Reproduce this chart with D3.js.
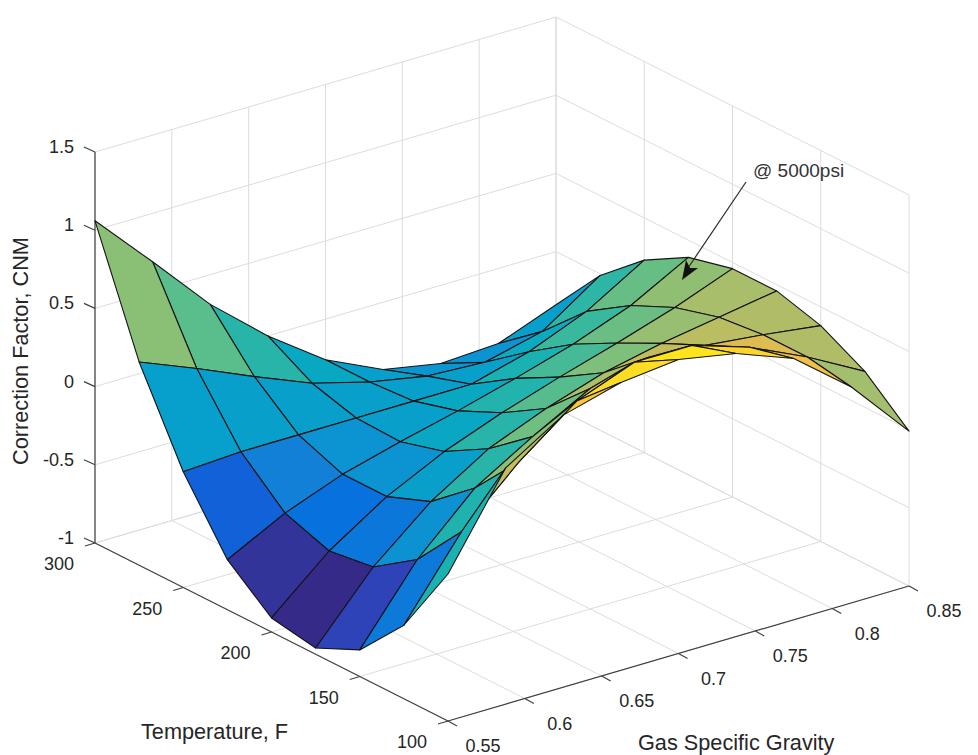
<!DOCTYPE html>
<meta charset="utf-8">
<title>Correction Factor CNM</title>
<style>
  html, body { margin: 0; background: #fff; }
  text { font-family: "Liberation Sans", Arial, sans-serif; fill: #262626; }
  .grid line { stroke: #dcdcdc; stroke-width: 1; }
  .axis line { stroke: #404040; stroke-width: 1.2; }
  .surface polygon { stroke: #141414; stroke-width: 1.1; stroke-linejoin: round; }
</style>
<body>
<svg width="978" height="755"></svg>
<script src="https://d3js.org/d3.v7.min.js"></script>
<script>

// axis ticks
var gsTicks = [0.55, 0.6, 0.65, 0.7, 0.75, 0.8, 0.85];
var gsTickLabels = ["0.55", "0.6", "0.65", "0.7", "0.75", "0.8", "0.85"];
var tempTicks = [300, 250, 200, 150, 100];
var zTicks = [-1, -0.5, 0, 0.5, 1, 1.5];

// surface mesh nodes
var gsGrid = [0.55, 0.5875, 0.625, 0.6625, 0.7, 0.7375, 0.775, 0.8125, 0.85];
var tempGrid = [300, 275, 250, 225, 200, 175, 150, 125, 100];

// CNM, one list per temperature, same order as gsGrid
var cnm300 = [1.06, 0.69, 0.31, 0, -0.26, -0.43, -0.50, -0.48, -0.34];
var cnm275 = [0.30, 0.15, -0.01, -0.16, -0.26, -0.33, -0.35, -0.26, -0.01];
var cnm250 = [-0.26, -0.24, -0.24, -0.24, -0.24, -0.24, -0.14, 0.01, 0.23];
var cnm225 = [-0.68, -0.49, -0.35, -0.25, -0.16, -0.06, 0.05, 0.19, 0.39];
var cnm200 = [-0.91, -0.59, -0.35, -0.17, -0.03, 0.09, 0.20, 0.32, 0.46];
var cnm175 = [-0.96, -0.55, -0.24, -0.01, 0.14, 0.26, 0.34, 0.40, 0.46];
var cnm150 = [-0.83, -0.36, -0.01, 0.21, 0.41, 0.50, 0.47, 0.43, 0.38];
var cnm125 = [-0.53, -0.04, 0.30, 0.58, 0.72, 0.72, 0.60, 0.43, 0.23];
var cnm100 = [-0.06, 0.51, 0.74, 0.84, 0.88, 0.81, 0.67, 0.38, -0.01];
var cnmRows = [cnm300, cnm275, cnm250, cnm225, cnm200, cnm175, cnm150, cnm125, cnm100];

// parula colormap, thinned out, top end nudged to the yellow in the picture
var parula = ["#352a87", "#2c4ac7", "#046de0", "#1485d4", "#079ccf", "#0aacbe", "#38b99e",
  "#71bf80", "#a5be6b", "#d1bb59", "#fdc23a", "#fde71a", "#f9fb0e"];

var svg = d3.select("svg");

// oblique projection of the box: back-left bottom corner plus one vector per axis
var origin = [95, 543];
var gsVec = [461, -135];
var tempVec = [353, 178];
var zHeight = 391;

var gsScale = d3.scaleLinear().domain([0.55, 0.85]).range([0, 1]);
var tempScale = d3.scaleLinear().domain([300, 100]).range([0, 1]);
var zScale = d3.scaleLinear().domain([-1, 1.5]).range([0, zHeight]);

function project(gs, temp, z) {
  var a = gsScale(gs), b = tempScale(temp);
  return [origin[0] + a * gsVec[0] + b * tempVec[0],
          origin[1] + a * gsVec[1] + b * tempVec[1] - zScale(z)];
}

// colour limits are the min and max of the surface
var cnmExtent = d3.extent(d3.merge(cnmRows));
var color = d3.scaleLinear()
  .domain(parula.map(function(c, i) {
    return cnmExtent[0] + i / (parula.length - 1) * (cnmExtent[1] - cnmExtent[0]);
  }))
  .range(parula);

function addLine(g, p, q) {
  g.append("line").attr("x1", p[0]).attr("y1", p[1]).attr("x2", q[0]).attr("y2", q[1]);
}

// grid: floor and the two back walls
var grid = svg.append("g").attr("class", "grid");
gsTicks.forEach(function(gs) {
  addLine(grid, project(gs, 300, -1), project(gs, 100, -1));
  addLine(grid, project(gs, 300, -1), project(gs, 300, 1.5));
});
tempTicks.forEach(function(t) {
  addLine(grid, project(0.55, t, -1), project(0.85, t, -1));
  addLine(grid, project(0.85, t, -1), project(0.85, t, 1.5));
});
zTicks.forEach(function(z) {
  addLine(grid, project(0.55, 300, z), project(0.85, 300, z));
  addLine(grid, project(0.85, 300, z), project(0.85, 100, z));
});

// axis lines and ticks
var axis = svg.append("g").attr("class", "axis");
addLine(axis, project(0.55, 300, -1), project(0.55, 300, 1.5));
addLine(axis, project(0.55, 300, -1), project(0.55, 100, -1));
addLine(axis, project(0.55, 100, -1), project(0.85, 100, -1));

zTicks.forEach(function(z) {
  var p = project(0.55, 300, z);
  addLine(axis, p, [p[0] - 11, p[1] - 5]);
  svg.append("text").attr("x", 74).attr("y", p[1] - 5)
    .attr("text-anchor", "end").attr("dominant-baseline", "central")
    .style("font-size", "18px").text(z);
});
tempTicks.forEach(function(t) {
  var p = project(0.55, t, -1);
  addLine(axis, p, [p[0] - 10, p[1] + 3]);
  svg.append("text").attr("x", p[0] - 36).attr("y", p[1] + 21)
    .attr("text-anchor", "middle").attr("dominant-baseline", "central")
    .style("font-size", "18px").text(t);
});
gsTicks.forEach(function(gs, i) {
  var p = project(gs, 100, -1);
  addLine(axis, p, [p[0] + 9, p[1] + 5]);
  svg.append("text").attr("x", p[0] + 35).attr("y", p[1] + 25)
    .attr("text-anchor", "middle").attr("dominant-baseline", "central")
    .style("font-size", "18px").text(gsTickLabels[i]);
});

// faces, far corner first so nearer ones paint over. Colour comes from the
// face's lower temperature, lower gravity node, same as surf
var faces = [];
d3.range(tempGrid.length - 1).forEach(function(i) {
  d3.range(gsGrid.length - 2, -1, -1).forEach(function(k) {
    faces.push({
      c: cnmRows[i + 1][k],
      pts: [[k, i], [k + 1, i], [k + 1, i + 1], [k, i + 1]].map(function(n) {
        return project(gsGrid[n[0]], tempGrid[n[1]], cnmRows[n[1]][n[0]]);
      })
    });
  });
});

svg.append("g").attr("class", "surface")
  .selectAll("polygon")
  .data(faces)
  .enter().append("polygon")
  .attr("points", function(d) { return d.pts.map(function(p) { return p.join(","); }).join(" "); })
  .attr("fill", function(d) { return color(d.c); });

// axis titles
svg.append("text").attr("x", 141).attr("y", 739)
  .style("font-size", "21.7px").text("Temperature, F");
svg.append("text").attr("x", 638).attr("y", 750)
  .style("font-size", "21.7px").text("Gas Specific Gravity");
svg.append("text").attr("transform", "translate(28,351) rotate(-90)")
  .attr("text-anchor", "middle")
  .style("font-size", "21.7px").text("Correction Factor, CNM");

// annotation
svg.append("text").attr("x", 753).attr("y", 177)
  .style("font-size", "19px").style("fill", "#333").text("@ 5000psi");
svg.append("line").attr("x1", 746).attr("y1", 182).attr("x2", 688).attr("y2", 268)
  .attr("stroke", "#2a2a2a").attr("stroke-width", 1.2);
svg.append("path").attr("d", "M682,280 L686,260 L690,268 L698,268 Z").attr("fill", "#111");

</script>
</body>
